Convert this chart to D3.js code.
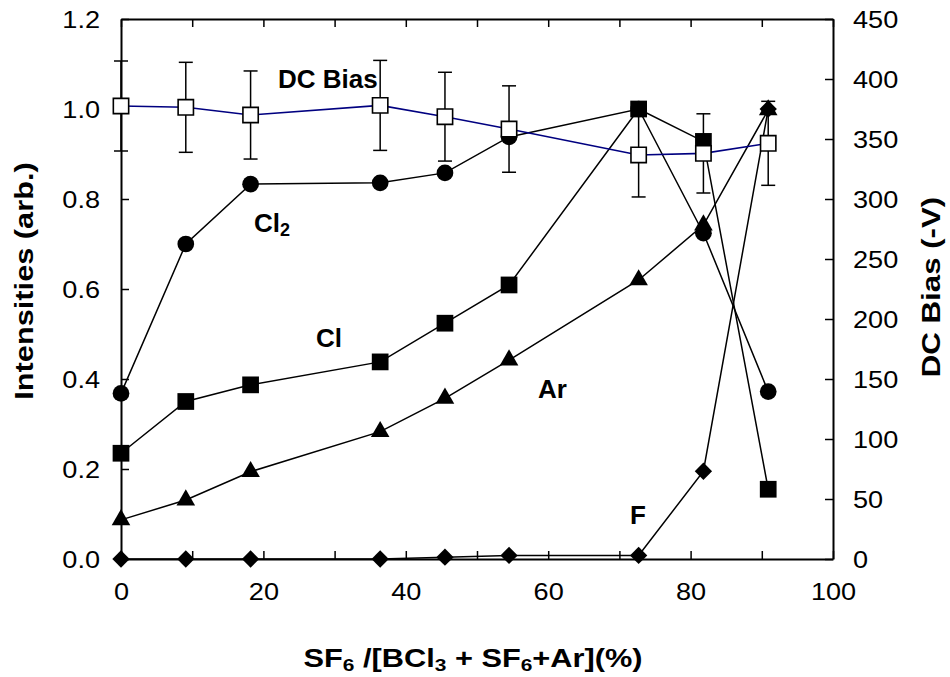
<!DOCTYPE html>
<html>
<head>
<meta charset="utf-8">
<script src="https://cdn.jsdelivr.net/npm/d3@7"></script>
<style>
  body { margin: 0; background: #fff; }
  svg { display: block; font-family: "Liberation Sans", Arial, sans-serif; }
</style>
</head>
<body>
<div class="chart"></div>
<script>
// SF6 fraction (%)
var sf6Pct = [0, 9.1, 18.2, 36.4, 45.5, 54.5, 72.7, 81.8, 90.9];

// normalised emission intensities
var cl2Vals = [0.368, 0.700, 0.833, 0.836, 0.858, 0.938, 1.000, 0.724, 0.372];
var clVals  = [0.235, 0.350, 0.387, 0.438, 0.524, 0.609, 1.000, 0.928, 0.155];
var arVals  = [0.087, 0.131, 0.194, 0.283, 0.357, 0.442, 0.620, 0.742, 0.998];
var fVals   = [0, 0, 0, 0, 0.004, 0.008, 0.008, 0.195, 1.000];

// DC bias (-V) with error
var dcBias = [377.5, 376.4, 370, 378, 368.6, 358.3, 336.7, 338, 346.4];
var dcErr  = [37.5, 37.5, 36.7, 37.5, 37, 36, 35, 33, 35];

// tick values
var xTicks = [0, 10, 20, 30, 40, 50, 60, 70, 80, 90, 100];
var yLeftTicks = [0, 0.2, 0.4, 0.6, 0.8, 1.0, 1.2];
var yRightTicks = [0, 50, 100, 150, 200, 250, 300, 350, 400, 450];

// series labels (x in %, y in intensity units)
var seriesLabels = [
  { name: "DC Bias", sub: "", x: 22.05, y: 1.047 },
  { name: "Cl", sub: "2", x: 18.68, y: 0.727 },
  { name: "Cl", sub: "", x: 27.4, y: 0.471 },
  { name: "Ar", sub: "", x: 58.57, y: 0.358 },
  { name: "F", sub: "", x: 71.49, y: 0.078 }
];

var W = 950, H = 677;
var marginLeft = 121, marginRight = 117, marginTop = 19, marginBottom = 118;

var svg = d3.select(".chart").append("svg")
  .attr("width", W).attr("height", H);

var x = d3.scaleLinear().domain([0, 100]).range([marginLeft, W - marginRight]);
var yL = d3.scaleLinear().domain([0, 1.2]).range([H - marginBottom, marginTop]);
var yR = d3.scaleLinear().domain([0, 450]).range([H - marginBottom, marginTop]);

// stretch text horizontally, the reference fonts are wide
function stretch(sel, k) {
  sel.each(function() {
    var w = this.getComputedTextLength();
    d3.select(this).attr("textLength", w * k).attr("lengthAdjust", "spacingAndGlyphs");
  });
}

function styleAxis(g) {
  g.select(".domain").attr("stroke", "#000").attr("stroke-width", 2);
  g.selectAll(".tick line").attr("stroke", "#000").attr("stroke-width", 1.5);
  g.selectAll(".tick text")
    .attr("fill", "#000")
    .style("font-family", '"Liberation Sans", Arial, sans-serif')
    .style("font-size", "24px");
}

// axes
var gBottom = svg.append("g")
  .attr("transform", "translate(0," + (H - marginBottom) + ")")
  .call(d3.axisBottom(x).tickValues(xTicks).tickSize(-8).tickSizeOuter(0).tickPadding(24)
    .tickFormat(function(d) { return d % 20 === 0 ? d : ""; }));
styleAxis(gBottom);

var gTop = svg.append("g")
  .attr("transform", "translate(0," + marginTop + ")")
  .call(d3.axisTop(x).tickValues(xTicks).tickSize(-8).tickSizeOuter(0).tickFormat(""));
styleAxis(gTop);

var gLeft = svg.append("g")
  .attr("transform", "translate(" + marginLeft + ",0)")
  .call(d3.axisLeft(yL).tickValues(yLeftTicks).tickSize(-8).tickSizeOuter(0).tickPadding(21)
    .tickFormat(d3.format(".1f")));
styleAxis(gLeft);
gLeft.selectAll(".tick text").attr("dy", "0.36em");

var gRight = svg.append("g")
  .attr("transform", "translate(" + (W - marginRight) + ",0)")
  .call(d3.axisRight(yR).tickValues(yRightTicks).tickSize(-8).tickSizeOuter(0).tickPadding(20));
styleAxis(gRight);
gRight.selectAll(".tick text").attr("dy", "0.36em");

stretch(svg.selectAll(".tick text"), 1.13);

// intensity series
var series = [
  { vals: cl2Vals, shape: d3.symbolCircle, size: 220, rot: 0 },
  { vals: clVals,  shape: d3.symbolSquare, size: 280, rot: 0 },
  { vals: arVals,  shape: d3.symbolTriangle, size: 150, rot: 0 },
  { vals: fVals,   shape: d3.symbolSquare, size: 150, rot: 45 }
];

var line = d3.line()
  .x(function(d) { return x(d[0]); })
  .y(function(d) { return yL(d[1]); });

series.forEach(function(s) {
  var pts = sf6Pct.map(function(v, i) { return [v, s.vals[i]]; });
  svg.append("path")
    .attr("d", line(pts))
    .attr("fill", "none")
    .attr("stroke", "#000")
    .attr("stroke-width", 1.5);
  svg.append("g").selectAll("path")
    .data(pts)
    .enter().append("path")
    .attr("d", d3.symbol().type(s.shape).size(s.size))
    .attr("transform", function(d) {
      return "translate(" + x(d[0]) + "," + yL(d[1]) + ") rotate(" + s.rot + ")";
    })
    .attr("fill", "#000");
});

// DC bias with error bars
var dcPts = sf6Pct.map(function(v, i) { return { x: v, y: dcBias[i], e: dcErr[i] }; });

var errG = svg.append("g").attr("stroke", "#000").attr("stroke-width", 1.5);
errG.selectAll(".ebar").data(dcPts).enter().append("line")
  .attr("x1", function(d) { return x(d.x); })
  .attr("x2", function(d) { return x(d.x); })
  .attr("y1", function(d) { return yR(d.y - d.e); })
  .attr("y2", function(d) { return yR(d.y + d.e); });
[-1, 1].forEach(function(sgn) {
  errG.selectAll(".cap" + sgn).data(dcPts).enter().append("line")
    .attr("x1", function(d) { return x(d.x) - 7; })
    .attr("x2", function(d) { return x(d.x) + 7; })
    .attr("y1", function(d) { return yR(d.y + sgn * d.e); })
    .attr("y2", function(d) { return yR(d.y + sgn * d.e); });
});

svg.append("path")
  .attr("d", d3.line().x(function(d) { return x(d.x); }).y(function(d) { return yR(d.y); })(dcPts))
  .attr("fill", "none")
  .attr("stroke", "#000080")
  .attr("stroke-width", 1.6);

svg.append("g").selectAll("path")
  .data(dcPts)
  .enter().append("path")
  .attr("d", d3.symbol().type(d3.symbolSquare).size(235))
  .attr("transform", function(d) { return "translate(" + x(d.x) + "," + yR(d.y) + ")"; })
  .attr("fill", "#fff")
  .attr("stroke", "#000")
  .attr("stroke-width", 1.6);

// series labels
seriesLabels.forEach(function(l) {
  var t = svg.append("text")
    .attr("x", x(l.x)).attr("y", yL(l.y))
    .attr("font-size", 26).attr("font-weight", "bold").attr("fill", "#000")
    .text(l.name);
  if (l.sub) {
    t.append("tspan").attr("font-size", 18).attr("dy", 4).text(l.sub);
  }
});

// axis titles
var xTitle = svg.append("text")
  .attr("transform", "translate(473,667) scale(1.23,1)")
  .attr("text-anchor", "middle")
  .attr("font-size", 25).attr("font-weight", "bold");
xTitle.append("tspan").text("SF");
xTitle.append("tspan").attr("font-size", 17).attr("dy", 4).text("6");
xTitle.append("tspan").attr("dy", -4).text(" /[BCl");
xTitle.append("tspan").attr("font-size", 17).attr("dy", 4).text("3");
xTitle.append("tspan").attr("dy", -4).text(" + SF");
xTitle.append("tspan").attr("font-size", 17).attr("dy", 4).text("6");
xTitle.append("tspan").attr("dy", -4).text("+Ar](%)");

svg.append("text")
  .attr("transform", "translate(33,281) rotate(-90) scale(1.23,1)")
  .attr("text-anchor", "middle")
  .attr("font-size", 25).attr("font-weight", "bold")
  .text("Intensities (arb.)");

svg.append("text")
  .attr("transform", "translate(940,287) rotate(-90) scale(1.25,1)")
  .attr("text-anchor", "middle")
  .attr("font-size", 25).attr("font-weight", "bold")
  .text("DC Bias (-V)");
</script>
</body>
</html>
